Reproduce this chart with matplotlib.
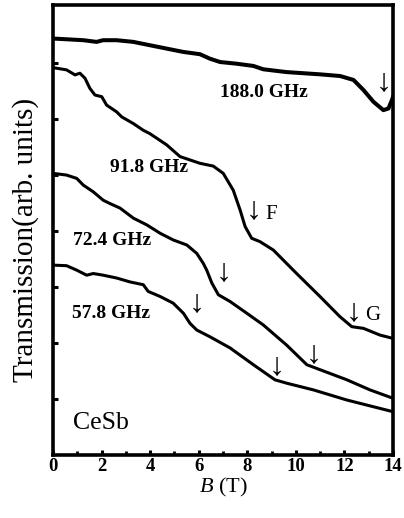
import matplotlib.pyplot as plt
from matplotlib.ticker import MultipleLocator

plt.rcParams['font.family'] = ['Liberation Serif', 'DejaVu Serif']
plt.rcParams['mathtext.fontset'] = 'custom'
plt.rcParams['mathtext.it'] = 'Liberation Serif:italic'

# field (T) and transmission (arb. units)
b_188 = [0, 1.25, 1.80, 2.06, 2.62, 3.31, 3.99, 4.68, 5.37, 6.05, 6.46, 6.88, 7.56,
         8.25, 8.66, 9.62, 10.99, 11.82, 12.37, 12.78, 13.19, 13.60, 13.81, 13.95, 14.0]
t_188 = [7.44, 7.41, 7.38, 7.41, 7.41, 7.38, 7.32, 7.26, 7.20, 7.16, 7.08, 7.02, 6.99,
         6.95, 6.89, 6.84, 6.80, 6.77, 6.70, 6.52, 6.31, 6.16, 6.19, 6.34, 6.40]

b_918 = [0, 0.56, 0.91, 1.11, 1.32, 1.52, 1.73, 2.01, 2.21, 2.62, 2.83, 3.31, 3.72, 3.99,
         4.68, 5.23, 6.05, 6.60, 7.01, 7.42, 7.70, 7.91, 8.18, 8.52, 9.07, 10.03, 10.99,
         11.81, 12.30, 12.78, 13.46, 14.0]
t_918 = [6.92, 6.88, 6.79, 6.82, 6.73, 6.55, 6.43, 6.40, 6.25, 6.13, 6.04, 5.92, 5.80, 5.74,
         5.54, 5.33, 5.21, 5.16, 5.03, 4.73, 4.38, 4.08, 3.87, 3.81, 3.66, 3.24, 2.83,
         2.47, 2.29, 2.26, 2.14, 2.08]

b_724 = [0, 0.56, 0.98, 1.25, 1.66, 2.07, 2.35, 2.76, 3.31, 3.86, 4.41, 4.95, 5.51, 5.92,
         6.19, 6.33, 6.54, 6.81, 7.29, 7.98, 8.66, 9.62, 10.45, 11.00, 12.10, 13.05, 14.0]
t_724 = [5.03, 5.00, 4.94, 4.82, 4.70, 4.55, 4.49, 4.41, 4.23, 4.11, 3.96, 3.84, 3.75, 3.60,
         3.42, 3.30, 3.07, 2.86, 2.74, 2.53, 2.32, 1.96, 1.61, 1.52, 1.34, 1.16, 1.01]

b_578 = [0, 0.56, 0.98, 1.39, 1.66, 2.07, 2.62, 3.17, 3.72, 3.92, 4.41, 4.95, 5.37, 5.64,
         5.92, 6.46, 7.29, 8.25, 9.14, 9.62, 10.72, 12.09, 14.0]
t_578 = [3.39, 3.38, 3.30, 3.21, 3.24, 3.21, 3.16, 3.09, 3.04, 2.92, 2.83, 2.71, 2.53, 2.35,
         2.23, 2.11, 1.91, 1.61, 1.34, 1.28, 1.16, 0.98, 0.77]

x_ticks = [0, 2, 4, 6, 8, 10, 12, 14]

fig = plt.figure(figsize=(4.04, 5.18), dpi=100)
ax = fig.add_axes([0.131, 0.122, 0.842, 0.868])

ax.plot(b_188, t_188, color='black', lw=2.9, solid_joinstyle='round')
ax.plot(b_918, t_918, color='black', lw=2.2, solid_joinstyle='round')
ax.plot(b_724, t_724, color='black', lw=2.2, solid_joinstyle='round')
ax.plot(b_578, t_578, color='black', lw=2.2, solid_joinstyle='round')

# frequency labels
ax.text(6.88, 6.47, '188.0 GHz', fontsize=14, fontweight='bold', va='center', ha='left')
ax.text(2.35, 5.13, '91.8 GHz', fontsize=14, fontweight='bold', va='center', ha='left')
ax.text(0.82, 3.83, '72.4 GHz', fontsize=14, fontweight='bold', va='center', ha='left')
ax.text(0.77, 2.52, '57.8 GHz', fontsize=14, fontweight='bold', va='center', ha='left')
ax.text(0.81, 0.56, 'CeSb', fontsize=18.5, va='center', ha='left')

# arrows marking transitions
arrows = [(13.60, 6.66), (8.25, 4.36), (7.01, 3.25), (5.92, 2.71),
          (12.37, 2.54), (10.72, 1.79), (9.21, 1.57)]
for bx, ty in arrows:
    ax.text(bx, ty, '\u2193', fontsize=23, ha='center', va='center')
ax.text(9.00, 4.29, 'F', fontsize=15, ha='center', va='center')
ax.text(13.16, 2.49, 'G', fontsize=15, ha='center', va='center')

ax.set_xlim(0, 14)
ax.set_ylim(0, 8.036)
ax.set_xticks(x_ticks)
ax.xaxis.set_minor_locator(MultipleLocator(1))
ax.set_yticks([1, 2, 3, 4, 5, 6, 7])
ax.set_yticklabels([])
ax.tick_params(axis='both', which='both', direction='in', top=False, right=False)
ax.tick_params(axis='both', which='major', length=3.5, width=2.2)
ax.tick_params(axis='x', which='minor', length=3, width=2)
ax.tick_params(axis='x', labelsize=13.5, pad=2)
for lab in ax.get_xticklabels():
    lab.set_fontweight('bold')
for sp in ax.spines.values():
    sp.set_linewidth(2.6)

ax.set_xlabel('$B$ (T)', fontsize=16)
ax.set_ylabel('Transmission(arb. units)', fontsize=21)
ax.xaxis.set_label_coords(0.5, -0.048)
ax.yaxis.set_label_coords(-0.04, 0.478)

fig.savefig('out.png', dpi=100)
